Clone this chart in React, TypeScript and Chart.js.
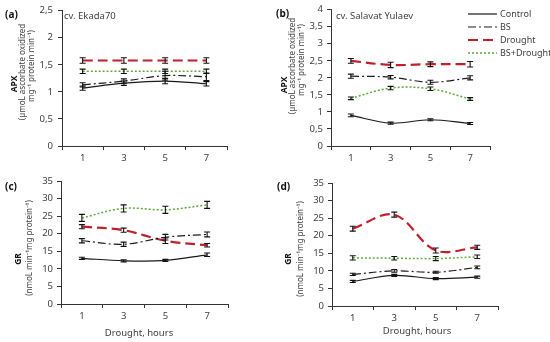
import React, { useEffect, useRef } from 'react';
import { Chart, registerables } from 'chart.js';
Chart.register(...registerables);

// ---------- data ----------
const hours = ['1', '3', '5', '7'];
const seriesNames = ['Control', 'BS', 'Drought', 'BS+Drought'];

// (a) APX, cv. Ekada70
const apxEkadaControl = [1.07, 1.16, 1.2, 1.15];
const apxEkadaBS = [1.13, 1.2, 1.3, 1.28];
const apxEkadaDrought = [1.58, 1.58, 1.58, 1.58];
const apxEkadaBSDrought = [1.38, 1.38, 1.38, 1.38];
const apxEkadaControlErr = [0.04, 0.04, 0.05, 0.04];
const apxEkadaBSErr = [0.04, 0.04, 0.08, 0.07];
const apxEkadaDroughtErr = [0.05, 0.05, 0.05, 0.05];
const apxEkadaBSDroughtErr = [0.04, 0.04, 0.04, 0.04];

// (b) APX, cv. Salavat Yulaev
const apxSalavatControl = [0.9, 0.67, 0.77, 0.66];
const apxSalavatBS = [2.05, 2.02, 1.87, 2.0];
const apxSalavatDrought = [2.5, 2.38, 2.4, 2.4];
const apxSalavatBSDrought = [1.4, 1.7, 1.68, 1.38];
const apxSalavatControlErr = [0.04, 0.03, 0.03, 0.03];
const apxSalavatBSErr = [0.06, 0.05, 0.06, 0.06];
const apxSalavatDroughtErr = [0.07, 0.08, 0.07, 0.08];
const apxSalavatBSDroughtErr = [0.04, 0.05, 0.05, 0.04];

// (c) GR, cv. Ekada70
const grEkadaControl = [13, 12.3, 12.4, 14];
const grEkadaBS = [18, 17, 19, 19.8];
const grEkadaDrought = [22, 21, 18, 16.7];
const grEkadaBSDrought = [24.5, 27.2, 26.8, 28.2];
const grEkadaControlErr = [0.3, 0.3, 0.3, 0.5];
const grEkadaBSErr = [0.6, 0.6, 0.8, 0.7];
const grEkadaDroughtErr = [0.6, 0.6, 0.8, 0.5];
const grEkadaBSDroughtErr = [1.0, 1.0, 1.0, 1.0];

// (d) GR, cv. Salavat Yulaev
const grSalavatControl = [7, 8.7, 7.8, 8.2];
const grSalavatBS = [9, 10, 9.6, 11];
const grSalavatDrought = [22, 26, 15.8, 16.7];
const grSalavatBSDrought = [13.7, 13.6, 13.5, 14];
const grSalavatControlErr = [0.3, 0.3, 0.3, 0.3];
const grSalavatBSErr = [0.3, 0.4, 0.3, 0.4];
const grSalavatDroughtErr = [0.7, 0.7, 0.7, 0.6];
const grSalavatBSDroughtErr = [0.6, 0.5, 0.6, 0.5];

// ---------- styles ----------
const seriesStyles = [
  { color: '#1a1a1a', width: 1.2, dash: [] as number[] },
  { color: '#1a1a1a', width: 1.2, dash: [8, 3, 2, 3] },
  { color: '#c0202a', width: 2.2, dash: [10, 5] },
  { color: '#5aab3c', width: 1.5, dash: [2, 2] },
];

const FONT = "'Noto Sans', 'DejaVu Sans', sans-serif";
const TEXT = '#404040';

type TextItem = { t: string; x: number; y: number; bold?: boolean; size?: number; rot?: boolean; align?: CanvasTextAlign };

type PanelProps = {
  left: number; top: number;
  area: { l: number; r: number; t: number; b: number };
  yMax: number; yStep: number;
  values: number[][]; errors: number[][];
  texts: TextItem[];
  legend?: { x: number; y: number; dy: number; len: number };
  yPad: number;
};

function Panel(p: PanelProps) {
  const ref = useRef<HTMLCanvasElement | null>(null);
  useEffect(() => {
    const W = 275, H = 171;
    const decor = {
      id: 'decor',
      afterDatasetsDraw(chart: any) {
        const ctx = chart.ctx as CanvasRenderingContext2D;
        const ys = chart.scales.y;
        const xs = chart.scales.x;
        // error bars
        ctx.save();
        ctx.strokeStyle = '#111';
        ctx.lineWidth = 1.1;
        ctx.setLineDash([]);
        chart.data.datasets.forEach((ds: any) => {
          (ds.data as number[]).forEach((v, i) => {
            const e = ds.errs[i];
            const x = xs.getPixelForValue(i);
            const y1 = ys.getPixelForValue(v - e);
            const y2 = ys.getPixelForValue(v + e);
            ctx.beginPath();
            ctx.moveTo(x, y1); ctx.lineTo(x, y2);
            ctx.moveTo(x - 3, y1); ctx.lineTo(x + 3, y1);
            ctx.moveTo(x - 3, y2); ctx.lineTo(x + 3, y2);
            ctx.stroke();
          });
        });
        ctx.restore();
      },
      afterDraw(chart: any) {
        const ctx = chart.ctx as CanvasRenderingContext2D;
        ctx.save();
        p.texts.forEach((it) => {
          ctx.font = `${it.bold ? 'bold ' : ''}${it.size || 9}px ${FONT}`;
          ctx.fillStyle = it.bold ? '#111' : TEXT;
          ctx.textBaseline = 'middle';
          ctx.textAlign = it.align || 'center';
          if (it.rot) {
            ctx.save();
            ctx.translate(it.x, it.y);
            ctx.rotate(-Math.PI / 2);
            ctx.fillText(it.t, 0, 0);
            ctx.restore();
          } else {
            ctx.fillText(it.t, it.x, it.y);
          }
        });
        if (p.legend) {
          const lg = p.legend;
          seriesNames.forEach((name, i) => {
            const st = seriesStyles[i];
            const y = lg.y + i * lg.dy;
            ctx.beginPath();
            ctx.strokeStyle = st.color;
            ctx.lineWidth = st.width;
            ctx.setLineDash(st.dash);
            ctx.moveTo(lg.x, y); ctx.lineTo(lg.x + lg.len, y);
            ctx.stroke();
            ctx.setLineDash([]);
            ctx.font = `9px ${FONT}`;
            ctx.fillStyle = TEXT;
            ctx.textAlign = 'left';
            ctx.textBaseline = 'middle';
            ctx.fillText(name, lg.x + lg.len + 3, y);
          });
        }
        ctx.restore();
      },
    };
    const chart = new Chart(ref.current as HTMLCanvasElement, {
      type: 'line',
      data: {
        labels: hours,
        datasets: p.values.map((vals, i) => ({
          label: seriesNames[i],
          data: vals,
          errs: p.errors[i],
          borderColor: seriesStyles[i].color,
          borderWidth: seriesStyles[i].width,
          borderDash: seriesStyles[i].dash,
          pointRadius: 0,
          tension: 0.35,
          fill: false,
        })) as any,
      },
      options: {
        responsive: false,
        animation: false,
        events: [],
        layout: { padding: { left: 0, top: p.area.t, right: W - p.area.r, bottom: 0 } },
        plugins: { legend: { display: false }, tooltip: { enabled: false } },
        scales: {
          x: {
            type: 'category',
            offset: true,
            grid: { display: true, drawOnChartArea: false, drawTicks: true, tickLength: 4, color: '#333', offset: true },
            border: { display: true, color: '#333', width: 1 },
            ticks: { color: TEXT, font: { family: FONT, size: 9.5 }, padding: 3, maxRotation: 0 },
            afterFit: (s: any) => { s.height = H - p.area.b; },
          },
          y: {
            min: 0, max: p.yMax,
            grid: { display: true, drawOnChartArea: false, drawTicks: true, tickLength: 4, color: '#333' },
            border: { display: true, color: '#333', width: 1 },
            ticks: {
              stepSize: p.yStep,
              color: TEXT,
              font: { family: FONT, size: 9.5 },
              padding: p.yPad,
              callback: (v: any) => String(Math.round(Number(v) * 100) / 100).replace('.', ','),
            },
            afterFit: (s: any) => { s.width = p.area.l; },
          },
        },
      } as any,
      plugins: [decor],
    });
    return () => chart.destroy();
  }, []);
  return (
    <canvas
      ref={ref}
      width={275}
      height={171}
      style={{ position: 'absolute', left: p.left, top: p.top, width: 275, height: 171 }}
    />
  );
}

export default function App() {
  const apxTitle = (x1: number, x2: number, x3: number, y1: number, y2: number, y3: number): TextItem[] => [
    { t: 'APX', x: x1, y: y1, bold: true, size: 8.5, rot: true },
    { t: '(µmoL ascorbate oxidized', x: x2, y: y2, size: 8, rot: true },
    { t: 'mg⁻¹ protein min⁻¹)', x: x3, y: y3, size: 8, rot: true },
  ];
  return (
    <div style={{ position: 'fixed', left: 0, top: 0, width: 550, height: 342, background: '#fff', overflow: 'hidden' }}>
      <Panel
        left={0} top={0}
        area={{ l: 62, r: 227, t: 7, b: 146 }}
        yMax={2.5} yStep={0.5} yPad={5}
        values={[apxEkadaControl, apxEkadaBS, apxEkadaDrought, apxEkadaBSDrought]}
        errors={[apxEkadaControlErr, apxEkadaBSErr, apxEkadaDroughtErr, apxEkadaBSDroughtErr]}
        texts={[
          { t: '(a)', x: 5, y: 15, bold: true, size: 10, align: 'left' },
          { t: 'cv. Ekada70', x: 64, y: 16, size: 9.5, align: 'left' },
          ...apxTitle(15, 23, 32, 84, 72, 66),
        ]}
      />
      <Panel
        left={275} top={0}
        area={{ l: 56, r: 215, t: 8, b: 146 }}
        yMax={4} yStep={0.5} yPad={4}
        values={[apxSalavatControl, apxSalavatBS, apxSalavatDrought, apxSalavatBSDrought]}
        errors={[apxSalavatControlErr, apxSalavatBSErr, apxSalavatDroughtErr, apxSalavatBSDroughtErr]}
        texts={[
          { t: '(b)', x: 1, y: 14, bold: true, size: 10, align: 'left' },
          { t: 'cv. Salavat Yulaev', x: 61, y: 16, size: 9.5, align: 'left' },
          ...apxTitle(10, 18, 27, 85, 66, 60),
        ]}
        legend={{ x: 193, y: 14, dy: 13, len: 29 }}
      />
      <Panel
        left={0} top={171}
        area={{ l: 61, r: 228, t: 10, b: 133 }}
        yMax={35} yStep={5} yPad={4}
        values={[grEkadaControl, grEkadaBS, grEkadaDrought, grEkadaBSDrought]}
        errors={[grEkadaControlErr, grEkadaBSErr, grEkadaDroughtErr, grEkadaBSDroughtErr]}
        texts={[
          { t: '(c)', x: 5, y: 16, bold: true, size: 10, align: 'left' },
          { t: 'GR', x: 19, y: 88, bold: true, size: 8.5, rot: true },
          { t: '(nmoL min⁻¹mg protein⁻¹)', x: 30, y: 77, size: 8, rot: true },
          { t: 'Drought, hours', x: 139, y: 162, size: 9.5 },
        ]}
      />
      <Panel
        left={275} top={171}
        area={{ l: 57, r: 223, t: 12, b: 135 }}
        yMax={35} yStep={5} yPad={4}
        values={[grSalavatControl, grSalavatBS, grSalavatDrought, grSalavatBSDrought]}
        errors={[grSalavatControlErr, grSalavatBSErr, grSalavatDroughtErr, grSalavatBSDroughtErr]}
        texts={[
          { t: '(d)', x: 2, y: 16, bold: true, size: 10, align: 'left' },
          { t: 'GR', x: 14, y: 88, bold: true, size: 8.5, rot: true },
          { t: '(nmoL min⁻¹mg protein⁻¹)', x: 26, y: 78, size: 8, rot: true },
          { t: 'Drought, hours', x: 142, y: 160, size: 9.5 },
        ]}
      />
    </div>
  );
}
